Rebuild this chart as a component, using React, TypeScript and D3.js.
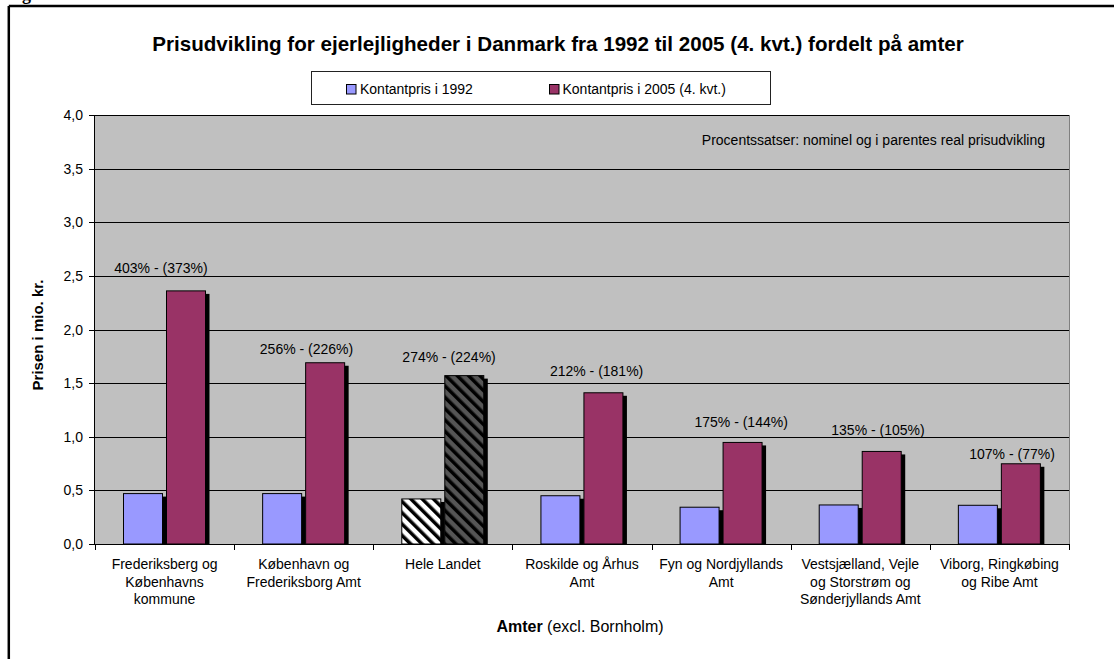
import React from 'react';
import * as d3 from 'd3';

// data
const categories = [
  ['Frederiksberg og', 'Københavns', 'kommune'],
  ['København og', 'Frederiksborg Amt'],
  ['Hele Landet'],
  ['Roskilde og Århus', 'Amt'],
  ['Fyn og Nordjyllands', 'Amt'],
  ['Vestsjælland, Vejle', 'og Storstrøm og', 'Sønderjyllands Amt'],
  ['Viborg, Ringkøbing', 'og Ribe Amt'],
];
const price1992 = [0.47, 0.47, 0.42, 0.45, 0.343, 0.364, 0.361];
const price2005 = [2.36, 1.69, 1.57, 1.41, 0.947, 0.863, 0.748];
const growthLabels = [
  '403% - (373%)',
  '256% - (226%)',
  '274% - (224%)',
  '212% - (181%)',
  '175% - (144%)',
  '135% - (105%)',
  '107% - (77%)',
];
const seriesNames = ['Kontantpris i 1992', 'Kontantpris i 2005 (4. kvt.)'];
const yTicks = [0, 0.5, 1, 1.5, 2, 2.5, 3, 3.5, 4];
const highlightIndex = 2; // Hele Landet, hatched

const W = 1114;
const H = 659;
const left = 95;
const right = 1069;
const top = 115;
const bottom = 544;
const font = '"Liberation Sans", Arial, sans-serif';

const blue = '#9999ff';
const plum = '#993366';

// hand-placed percentage labels (offset from category centre, lift above 2005 bar)
const labelDx = [-3.6, 2.8, 6.2, 14.6, 20, 17.7, 12.6];
const labelLift = [18, 8.7, 14, 16.3, 15.7, 16.7, 5];

const fmt = (v: number) => d3.format('.1f')(v).replace('.', ',');

export default function App() {
  const x0 = d3
    .scaleBand<number>()
    .domain(categories.map((_, i) => i))
    .range([left, right])
    .padding(0);
  const x1 = d3
    .scaleBand<number>()
    .domain([0, 1])
    .range([28.5, 110.5])
    .paddingInner(0.093)
    .paddingOuter(0);
  const y = d3.scaleLinear().domain([0, 4]).range([bottom, top]);
  const bw = x1.bandwidth();

  const bar = (ci: number, si: number, v: number) => {
    const bx = x0(ci)! + x1(si)!;
    const by = y(v);
    const h = bottom - by;
    let fill = si === 0 ? blue : plum;
    if (ci === highlightIndex) fill = si === 0 ? 'url(#hatchLight)' : 'url(#hatchDark)';
    return (
      <g key={`${ci}-${si}`}>
        <rect x={bx + 4} y={by + 3} width={bw} height={h - 3} fill="#000" />
        <rect x={bx} y={by} width={bw} height={h} fill={fill} stroke="#000" strokeWidth={1} />
      </g>
    );
  };

  return (
    <div style={{ position: 'absolute', left: 0, top: 0 }}>
      <svg width={W} height={H} style={{ display: 'block', background: '#fff' }}>
        <defs>
          <pattern id="hatchLight" width={8} height={8} patternUnits="userSpaceOnUse" patternTransform="rotate(-45)">
            <rect width={8} height={8} fill="#ffffff" />
            <rect width={3.5} height={8} fill="#000" />
          </pattern>
          <pattern id="hatchDark" width={8} height={8} patternUnits="userSpaceOnUse" patternTransform="rotate(-45)">
            <rect width={8} height={8} fill="#555555" />
            <rect width={3.5} height={8} fill="#000" />
          </pattern>
        </defs>

        {/* caption above the frame, cut off by the page edge as in the original */}
        <text x={6} y={0} fontFamily='"Liberation Serif", serif' fontWeight="bold" fontSize={18}>
          Figur
        </text>

        {/* outer frame */}
        <line x1={8.8} y1={6} x2={W} y2={6} stroke="#000" strokeWidth={2.5} />
        <line x1={8.8} y1={6} x2={8.8} y2={H} stroke="#000" strokeWidth={2.5} />

        <text x={558} y={50.5} textAnchor="middle" fontFamily={font} fontWeight="bold" fontSize={20.6}>
          Prisudvikling for ejerlejligheder i Danmark fra 1992 til 2005 (4. kvt.) fordelt på amter
        </text>

        {/* legend */}
        <rect x={311.5} y={71.5} width={459} height={33} fill="#fff" stroke="#222" />
        <rect x={346.5} y={84.5} width={9.5} height={9.5} fill={blue} stroke="#000" />
        <text x={360} y={93.5} fontFamily={font} fontSize={14}>{seriesNames[0]}</text>
        <rect x={549.5} y={84.5} width={9.5} height={9.5} fill={plum} stroke="#000" />
        <text x={562.5} y={93.5} fontFamily={font} fontSize={14}>{seriesNames[1]}</text>

        {/* plot area */}
        <rect x={left} y={top} width={right - left} height={bottom - top} fill="#c0c0c0" />
        <line x1={right + 0.5} y1={top} x2={right + 0.5} y2={bottom} stroke="#808080" />
        {yTicks.map((t) => (
          <line key={t} x1={left} x2={right} y1={Math.round(y(t)) + 0.5} y2={Math.round(y(t)) + 0.5} stroke="#000" />
        ))}

        <text x={1045} y={144.5} textAnchor="end" fontFamily={font} fontSize={14}>
          Procentssatser: nominel og i parentes real prisudvikling
        </text>

        {/* bars */}
        {categories.map((_, ci) => (
          <g key={ci}>
            {bar(ci, 0, price1992[ci])}
            {bar(ci, 1, price2005[ci])}
          </g>
        ))}

        {/* percentage labels */}
        {growthLabels.map((lab, ci) => (
          <text
            key={lab}
            x={x0(ci)! + x0.bandwidth() / 2 + labelDx[ci]}
            y={y(price2005[ci]) - labelLift[ci]}
            textAnchor="middle"
            fontFamily={font}
            fontSize={14}
          >
            {lab}
          </text>
        ))}

        {/* y axis */}
        <line x1={left - 0.5} x2={left - 0.5} y1={top} y2={bottom + 1} stroke="#000" />
        {yTicks.map((t) => (
          <g key={t}>
            <line x1={89} x2={left} y1={Math.round(y(t)) + 0.5} y2={Math.round(y(t)) + 0.5} stroke="#000" />
            <text x={83} y={y(t) + 5} textAnchor="end" fontFamily={font} fontSize={14}>
              {fmt(t)}
            </text>
          </g>
        ))}
        <text
          transform={`translate(43,335) rotate(-90)`}
          textAnchor="middle"
          fontFamily={font}
          fontWeight="bold"
          fontSize={15}
        >
          Prisen i mio. kr.
        </text>

        {/* x axis */}
        <line x1={left - 1} x2={right + 1} y1={bottom + 0.5} y2={bottom + 0.5} stroke="#000" />
        {categories.map((_, ci) => (
          <line
            key={ci}
            x1={Math.round(x0(ci)!) + 0.5}
            x2={Math.round(x0(ci)!) + 0.5}
            y1={bottom}
            y2={bottom + 6}
            stroke="#000"
          />
        ))}
        <line x1={right + 0.5} x2={right + 0.5} y1={bottom} y2={bottom + 6} stroke="#000" />
        {categories.map((lines, ci) => (
          <text
            key={ci}
            x={x0(ci)! + x0.bandwidth() / 2}
            y={569}
            textAnchor="middle"
            fontFamily={font}
            fontSize={14}
          >
            {lines.map((ln, li) => (
              <tspan key={li} x={x0(ci)! + x0.bandwidth() / 2} dy={li === 0 ? 0 : 17.5}>
                {ln}
              </tspan>
            ))}
          </text>
        ))}
        <text x={580} y={631.5} textAnchor="middle" fontFamily={font} fontSize={16}>
          <tspan fontWeight="bold">Amter</tspan> (excl. Bornholm)
        </text>
      </svg>
    </div>
  );
}
